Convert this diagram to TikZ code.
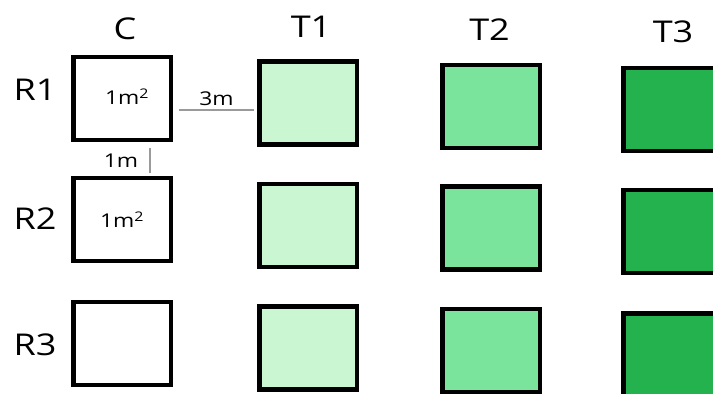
\documentclass[tikz,border=0pt]{standalone}
\usepackage{fontspec}
\setmainfont{Open Sans}[FakeStretch=1.2]
\usetikzlibrary{positioning}

\definecolor{tonelight}{HTML}{CAF6D2}
\definecolor{tonemid}{HTML}{7AE49D}
\definecolor{tonedark}{HTML}{24B24F}
\definecolor{dimgray}{HTML}{9A9A9A}

\tikzset{every node/.style={inner sep=0pt}}
\tikzstyle{plot}=[draw, line width=4.5pt, minimum width=97.5pt, minimum height=83pt]
\tikzstyle{head}=[font=\fontsize{30}{32}\selectfont]
\tikzstyle{dim}=[font=\fontsize{19}{21}\selectfont]
\tikzstyle{dimline}=[draw=dimgray, line width=2pt]

\begin{document}
\begin{tikzpicture}[x=1pt, y=-1pt]
            \useasboundingbox (0,0) rectangle (713,394);
            % control column
            \node [plot] (c1) at (122,98.5) {};
            \node [plot] (c2) at (122,219.5) {};
            \node [plot] (c3) at (122,343.5) {};
            % treatments
            \node [plot, fill=tonelight] (t11) at (308,103) {};
            \node [plot, fill=tonelight] (t12) at (308,225.5) {};
            \node [plot, fill=tonelight] (t13) at (308,348) {};
            \node [plot, fill=tonemid] (t21) at (491,106.5) {};
            \node [plot, fill=tonemid] (t22) at (491,228) {};
            \node [plot, fill=tonemid] (t23) at (491,350.5) {};
            \node [plot, fill=tonedark] (t31) at (672,109.5) {};
            \node [plot, fill=tonedark] (t32) at (672,231.5) {};
            \node [plot, fill=tonedark] (t33) at (672,355) {};
            % column heads
            \node [head] (hc) at (125,28.5) {C};
            \node [head] (h1) at (311,27) {T1};
            \node [head] (h2) at (489.5,30) {T2};
            \node [head] (h3) at (673,31.5) {T3};
            % row heads
            \node [head] (r1) at (35,90) {R1};
            \node [head] (r2) at (35,218.5) {R2};
            \node [head] (r3) at (35,345) {R3};
            % plot sizes
            \node [dim] (a1) at (127,97) {1m\textsuperscript{2}};
            \node [dim] (a2) at (122,220) {1m\textsuperscript{2}};
            % spacing
            \coordinate (gapa) at (179,110);
            \coordinate (gapb) at (254,110);
            \draw [dimline] (gapa) -- node [dim, above=3pt, text=black] {3m} (gapb);
            \coordinate (rowa) at (150,148);
            \coordinate (rowb) at (150,173);
            \draw [dimline] (rowa) -- node [dim, left=11pt, text=black] {1m} (rowb);
        \end{tikzpicture}
\end{document}
